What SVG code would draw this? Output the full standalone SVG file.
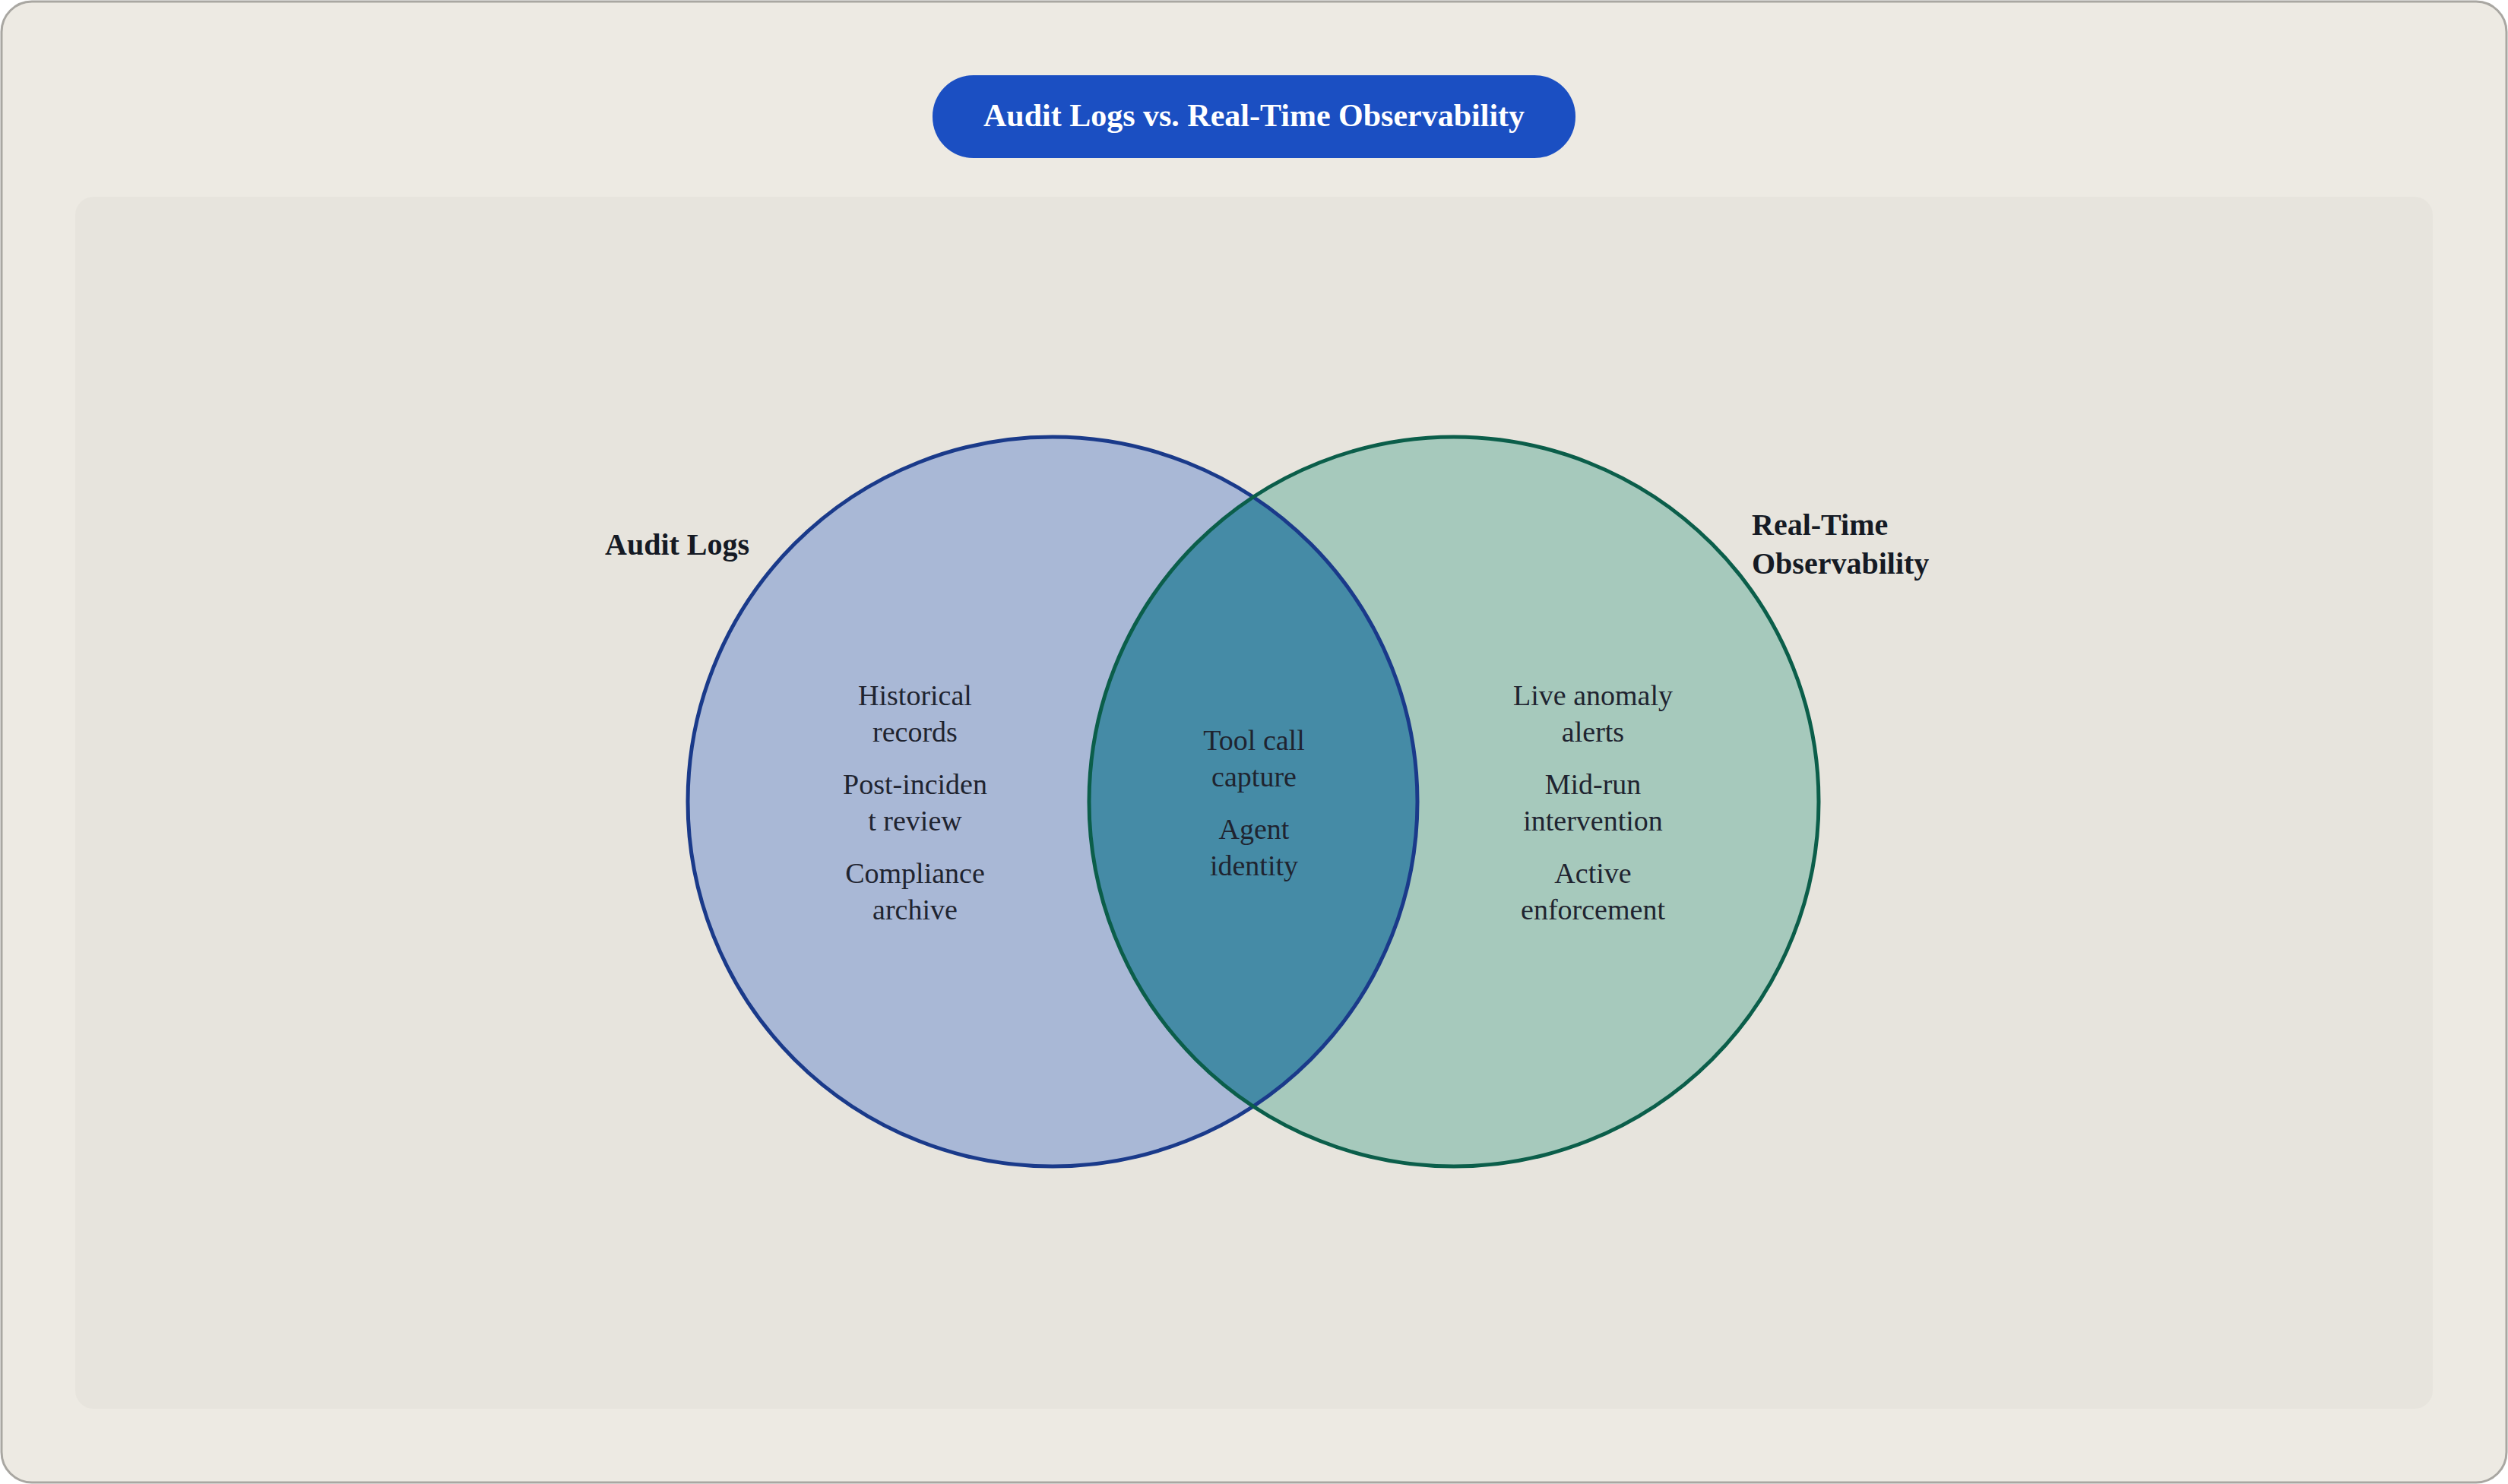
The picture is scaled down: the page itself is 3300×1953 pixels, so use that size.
<svg xmlns="http://www.w3.org/2000/svg" width="3300" height="1953" viewBox="0 0 3300 1953">
<style>
.t{font-family:"Liberation Serif",serif;font-size:38px;fill:#1f2430;text-anchor:middle}
.h{font-family:"Liberation Serif",serif;font-size:40px;font-weight:bold;fill:#151a24}
</style>
<defs><clipPath id="cl"><circle cx="1385" cy="1055" r="480"/></clipPath></defs>
<rect x="2" y="2" width="3296" height="1949" rx="40" fill="#edeae3" stroke="#a9a7a2" stroke-width="3"/>
<rect x="99" y="259" width="3102" height="1595" rx="24" fill="#e7e4dd"/>
<g id="title"><rect x="1227" y="99" width="846" height="109" rx="54" fill="#1b4fc2"/>
<text x="1650" y="166" font-family="Liberation Serif,serif" font-size="42" font-weight="bold" fill="#fff" text-anchor="middle">Audit Logs vs. Real-Time Observability</text></g>
<g id="audit"><circle cx="1385" cy="1055" r="480" fill="#a9b8d6"/></g>
<g id="realtime"><circle cx="1913" cy="1055" r="480" fill="#a6c9bc"/></g>
<g id="overlap"><circle cx="1913" cy="1055" r="480" fill="#458ba6" clip-path="url(#cl)"/></g>
<circle cx="1385" cy="1055" r="480" fill="none" stroke="#1a3a8a" stroke-width="5"/>
<circle cx="1913" cy="1055" r="480" fill="none" stroke="#0b5e4a" stroke-width="5"/>
<text class="h" x="796" y="730">Audit Logs</text>
<text class="h" x="2305" y="704">Real-Time</text>
<text class="h" x="2305" y="755">Observability</text>
<g class="t">
<text class="t" x="1204" y="928">Historical</text><text class="t" x="1204" y="976">records</text>
<text class="t" x="1204" y="1045">Post-inciden</text><text class="t" x="1204" y="1093">t review</text>
<text class="t" x="1204" y="1162">Compliance</text><text class="t" x="1204" y="1210">archive</text>
<text class="t" x="1650" y="987">Tool call</text><text class="t" x="1650" y="1035">capture</text>
<text class="t" x="1650" y="1104">Agent</text><text class="t" x="1650" y="1152">identity</text>
<text class="t" x="2096" y="928">Live anomaly</text><text class="t" x="2096" y="976">alerts</text>
<text class="t" x="2096" y="1045">Mid-run</text><text class="t" x="2096" y="1093">intervention</text>
<text class="t" x="2096" y="1162">Active</text><text class="t" x="2096" y="1210">enforcement</text>
</g>
</svg>
